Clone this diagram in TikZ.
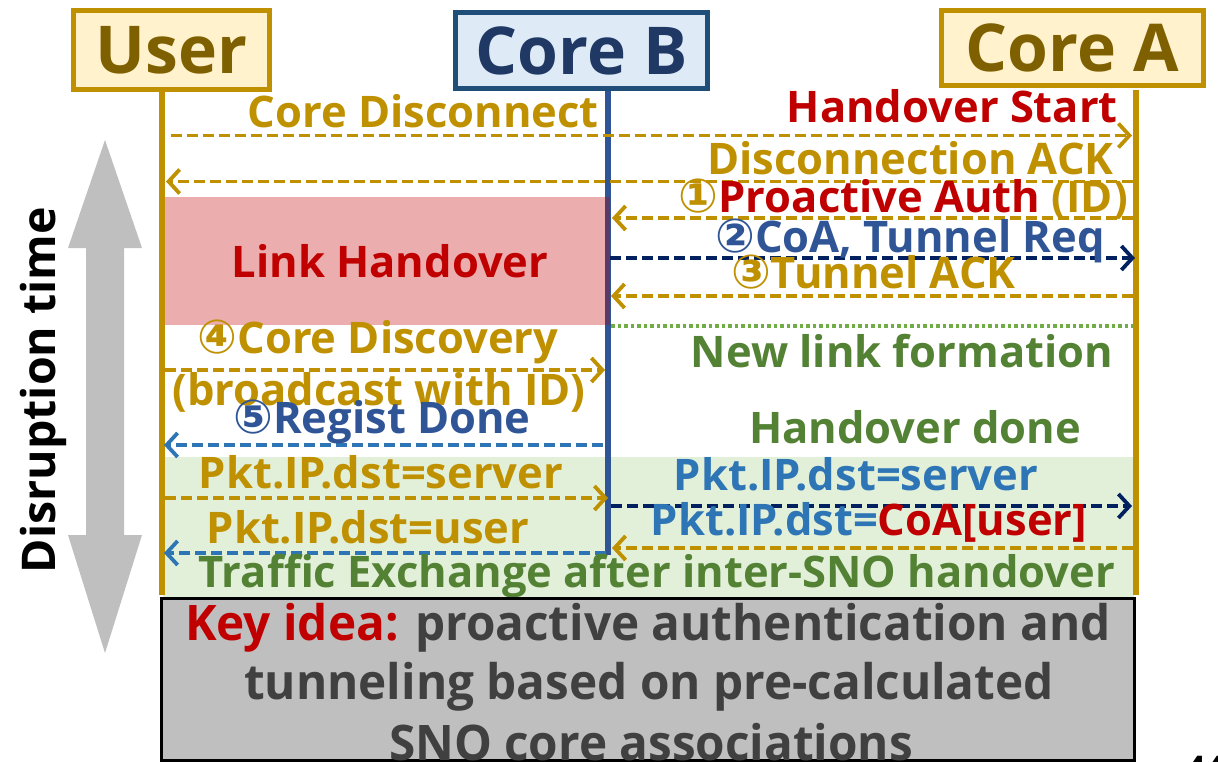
\documentclass[tikz,border=0pt]{standalone}
\usepackage{fontspec}
\setmainfont{Open Sans}
\newfontfamily\circfont{DejaVu Sans}
\usetikzlibrary{arrows.meta}
\definecolor{gold}{HTML}{BF9000}
\definecolor{dgold}{HTML}{7F6000}
\definecolor{ylw}{HTML}{FFF2CC}
\definecolor{bfill}{HTML}{DEEBF7}
\definecolor{bdraw}{HTML}{1F4E79}
\definecolor{btext}{HTML}{1F3864}
\definecolor{bline}{HTML}{2F5597}
\definecolor{lblue}{HTML}{2E75B6}
\definecolor{navy}{HTML}{002060}
\definecolor{myred}{HTML}{C00000}
\definecolor{grn}{HTML}{548235}
\definecolor{lgrn}{HTML}{70AD47}
\definecolor{grnbg}{HTML}{E2F0D9}
\definecolor{keyfill}{HTML}{BFBFBF}
\definecolor{keytext}{HTML}{404040}
\newcommand{\cnum}[1]{{\circfont\fontsize{47}{52}\selectfont #1}}
\tikzset{
  hdr/.style={draw, line width=5pt, inner sep=0pt, font=\fontsize{66}{72}\selectfont\bfseries},
  life/.style={line width=5.5pt},
  msg/.style={dash pattern=on 11pt off 5pt, line width=3.8pt, -{Straight Barb[length=11pt,width=24pt]}},
  lbl/.style={inner sep=0pt, font=\fontsize{43.5}{50}\selectfont\bfseries},
  big/.style={inner sep=0pt, font=\fontsize{43.5}{50}\selectfont\bfseries},
  keyl/.style={inner sep=0pt, font=\fontsize{49}{58}\selectfont\bfseries, text=keytext}
}
\begin{document}
\begin{tikzpicture}[x=1pt,y=-1pt]
\useasboundingbox (0,0) rectangle (1218,762);
% backgrounds
\fill[grnbg] (163,457) rectangle (1134,597);
% disruption arrow
\fill[keyfill] (105,140) -- (142,248) -- (124,248) -- (124,535) -- (142,535) -- (105,653)
  -- (68,535) -- (86,535) -- (86,248) -- (68,248) -- cycle;
\node[inner sep=0pt, rotate=90, font=\fontsize{46.5}{52}\selectfont\bfseries] (dis) at (43,390) {Disruption time};
% headers
\node[hdr, draw=gold, fill=ylw, text=dgold, minimum width=196pt, minimum height=79pt] (user) at (171.5,50) {User};
\node[hdr, draw=bdraw, fill=bfill, text=btext, minimum width=252pt, minimum height=76pt] (coreB) at (581.5,50.5) {Core B};
\node[hdr, draw=gold, fill=ylw, text=dgold, minimum width=262pt, minimum height=75pt] (coreA) at (1072.5,48) {Core A};
% lifelines
\coordinate (U0) at (162,92);   \coordinate (U1) at (162,595);
\coordinate (B0) at (608,91);   \coordinate (B1) at (608,555);
\coordinate (A0) at (1136,90);  \coordinate (A1) at (1136,595);
\draw[life, gold] (U0) -- (U1);
\draw[life, bline] (B0) -- (B1);
\draw[life, gold] (A0) -- (A1);
% link handover box
\fill[myred, opacity=0.32] (165,197) rectangle (610,325);
\node[big, text=myred, anchor=base] (lh) at (390,277) {Link Handover};
% messages
\draw[msg, gold, shorten <=9pt, shorten >=4pt] (U0 |- 0,135.5) -- (A0 |- 0,135.5);
\draw[msg, gold, shorten <=3pt, shorten >=4pt] (A0 |- 0,181.5) -- (U0 |- 0,181.5);
\draw[msg, gold, shorten <=3pt, shorten >=4pt] (A0 |- 0,218) -- (B0 |- 0,218);
\draw[msg, navy, shorten <=2pt, shorten >=1pt] (B0 |- 0,258) -- (A0 |- 0,258);
\draw[msg, gold, shorten <=3pt, shorten >=3pt] (A0 |- 0,296) -- (B0 |- 0,296);
\draw[lgrn, line width=3.5pt, dash pattern=on 3.5pt off 3pt] ([xshift=3pt]B0 |- 0,326) -- ([xshift=-3pt]A0 |- 0,326);
\draw[msg, gold, shorten <=3pt, shorten >=3pt] (U0 |- 0,370) -- (B0 |- 0,370);
\draw[msg, lblue, shorten <=5pt, shorten >=2pt] (B0 |- 0,445) -- (U0 |- 0,445);
\draw[msg, gold, shorten <=3pt, shorten >=0pt] (U0 |- 0,498) -- (B0 |- 0,498);
\draw[msg, navy, shorten <=3pt, shorten >=4pt] (B0 |- 0,506) -- (A0 |- 0,506);
\draw[msg, gold, shorten <=3pt, shorten >=4pt] (A0 |- 0,548) -- (B0 |- 0,548);
\draw[msg, lblue, shorten <=2pt, shorten >=2pt] (B0 |- 0,553) -- (U0 |- 0,553);
% labels
\node[lbl, text=gold, anchor=base east] (t1) at (599,128) {Core Disconnect};
\node[lbl, text=myred, anchor=base east] (t2) at (1118,123) {Handover Start};
\node[lbl, text=gold, anchor=base east] (t3) at (1114,175) {Disconnection ACK};
\node[lbl, anchor=base east] (t4) at (1128,213) {\textcolor{gold}{\cnum{①}}\textcolor{myred}{Proactive Auth} \textcolor{gold}{(ID)}};
\node[lbl, text=bline, anchor=base east] (t5) at (1105,252) {\cnum{②}CoA, Tunnel Req};
\node[lbl, text=gold, anchor=base east] (t6) at (1016,288) {\cnum{③}Tunnel ACK};
\node[lbl, text=grn, anchor=base] (t7) at (902,367) {New link formation};
\node[lbl, text=gold, anchor=base] (t8) at (378,353) {\cnum{④}Core Discovery};
\node[lbl, text=gold, anchor=base] (t9) at (379,405) {(broadcast with ID)};
\node[lbl, text=bline, anchor=base] (t10) at (382,433) {\cnum{⑤}Regist Done};
\node[lbl, text=grn, anchor=base] (t11) at (915,443) {Handover done};
\node[lbl, text=gold, anchor=base] (t12) at (381,488) {Pkt.IP.dst=server};
\node[lbl, text=lblue, anchor=base] (t13) at (856,490) {Pkt.IP.dst=server};
\node[lbl, text=gold, anchor=base] (t14) at (368,543) {Pkt.IP.dst=user};
\node[lbl, anchor=base] (t15) at (869,535) {\textcolor{lblue}{Pkt.IP.dst=}\textcolor{myred}{CoA[user]}};
\node[lbl, text=grn, anchor=base] (t16) at (657,587) {Traffic Exchange after inter-SNO handover};
% key idea box
\node[draw=black, line width=3pt, fill=keyfill, minimum width=973pt, minimum height=162pt, inner sep=0pt] (key) at (647.5,679) {};
\node[keyl, anchor=base] (k1) at (648,640) {\scalebox{0.973}[1]{\textcolor{myred}{Key idea:} proactive authentication and}};
\node[keyl, anchor=base] (k2) at (649,699) {\scalebox{0.973}[1]{tunneling based on pre-calculated}};
\node[keyl, anchor=base] (k3) at (651,760) {\scalebox{0.973}[1]{SNO core associations}};
% page number fragment
\node[inner sep=0pt, anchor=base west, font=\fontsize{34}{40}\selectfont\bfseries] (pg) at (1186,780) {44};
\end{tikzpicture}
\end{document}
